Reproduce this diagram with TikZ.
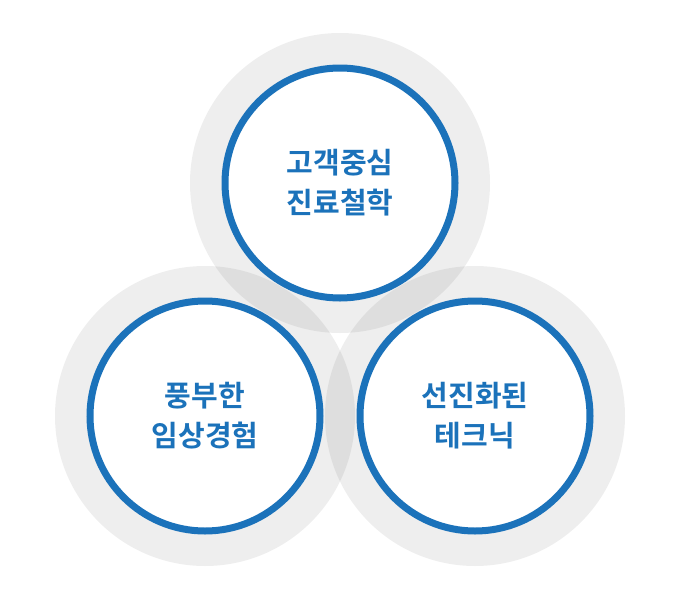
\documentclass[tikz,border=0pt]{standalone}
\usepackage{fontspec}
\newfontfamily\kr{Noto Sans CJK KR Bold}
\definecolor{blu}{HTML}{1B72BA}
\begin{document}
\begin{tikzpicture}[x=1pt,y=-1pt,
  halo/.style={fill=black,fill opacity=0.065,draw=none},
  ring/.style={circle,draw=blu,line width=7pt,fill=white,minimum size=230pt,
    align=center,font=\kr\fontsize{29}{40}\selectfont,text=blu}]
\useasboundingbox (0,0) rectangle (680,600);
\fill[halo] (340,183) circle (150);
\fill[halo] (205,416) circle (150);
\fill[halo] (475,416) circle (150);
\node[ring] (a) at (340,183) {고객중심\\진료철학};
\node[ring] (b) at (205,416) {풍부한\\임상경험};
\node[ring] (c) at (475,416) {선진화된\\테크닉};
\end{tikzpicture}
\end{document}
